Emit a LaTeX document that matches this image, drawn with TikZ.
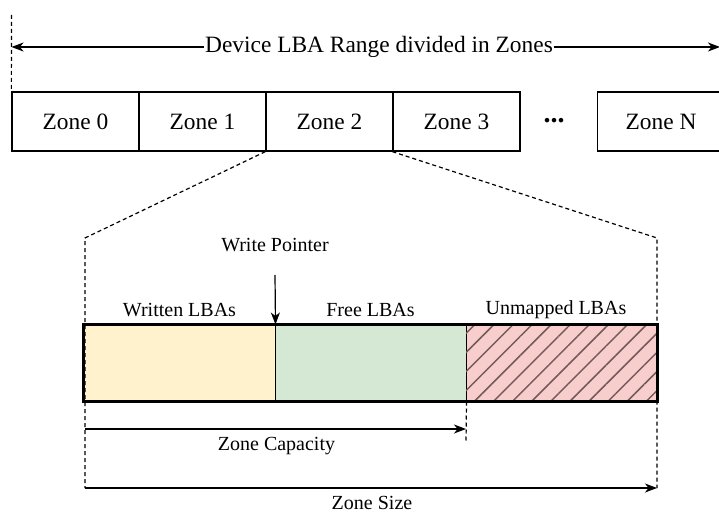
\documentclass[tikz,border=0pt]{standalone}
\usepackage{fontspec}
\setmainfont{Liberation Serif}
\usetikzlibrary{arrows.meta,patterns.meta}
\definecolor{writtenfill}{HTML}{FFF2CC}
\definecolor{freefill}{HTML}{D5E8D4}
\definecolor{unmapfill}{HTML}{F8CECC}
\definecolor{hatchcol}{RGB}{115,90,90}
\begin{document}
\begin{tikzpicture}[x=1pt,y=-1pt,
  bigtext/.style={font=\fontsize{23.4}{27}\selectfont, inner sep=0pt},
  smalltext/.style={font=\fontsize{20}{24}\selectfont, inner sep=0pt},
  zonebox/.style={draw, line width=1.3pt, minimum width=127pt, minimum height=59pt, inner sep=0pt, font=\fontsize{23.4}{27}\selectfont},
  barpart/.style={draw, line width=1pt, minimum width=191pt, minimum height=76pt, inner sep=0pt},
  dashline/.style={line width=1.2pt, dash pattern=on 4pt off 3pt},
  arr/.style={line width=1.2pt, -{Stealth[length=12pt,width=9pt,inset=3.5pt]}},
]
\useasboundingbox (0,0) rectangle (719,513);
\clip (0,0) rectangle (719,513);

% zones
\node[zonebox] (z0) at (75.5,121.5) {Zone 0};
\node[zonebox] (z1) at (202.5,121.5) {Zone 1};
\node[zonebox] (z2) at (329.5,121.5) {Zone 2};
\node[zonebox] (z3) at (456.5,121.5) {Zone 3};
\node[inner sep=0pt, font=\fontsize{28}{30}\selectfont\bfseries] (dots) at (554,120.5) {...};
\node[zonebox] (zn) at (661,121.5) {Zone N};

% device range arrow
\node[bigtext, fill=white, inner xsep=1pt] (title) at (379,47) {Device LBA Range divided in Zones};
\coordinate (lft) at (11.5,47);
\coordinate (rgt) at (720,47);
\coordinate (lfttop) at (11.5,15);
\draw[dashline] (lfttop) -- (z0.north west);
\draw[arr] (title.west) -- (lft);
\draw[arr] (title.east) -- (rgt);

% bar
\node[barpart, fill=writtenfill] (w) at (179.5,363) {};
\node[barpart, fill=freefill] (f) at (370.5,363) {};
\node[barpart, fill=unmapfill, postaction={pattern={Lines[angle=45,distance=13.5pt,line width=1.5pt]}, pattern color=hatchcol}] (u) at (561.5,363) {};
\draw[line width=2.2pt] (w.north west) rectangle (u.south east);

% zoom dashed lines
\coordinate (lc) at (85,238);
\coordinate (rc) at (657,238);
\coordinate (lb) at (85,488);
\coordinate (rb) at (657,488);
\coordinate (cb) at (466,443);
\draw[dashline] (z2.south west) -- (lc) -- (lb);
\draw[dashline] (z3.south west) -- (rc) -- (rb);
\draw[dashline] (f.south east) -- (cb);

% labels
\node[smalltext] (wp) at (275,245) {Write Pointer};
\coordinate (wps) at (275,275);
\draw[arr] (wps) -- (w.north east);
\node[smalltext] (wl) at (179.5,310) {Written LBAs};
\node[smalltext] (fl) at (370.5,310) {Free LBAs};
\node[smalltext] (ul) at (556,310) {Unmapped LBAs};

% capacity / size arrows
\coordinate (cs) at (85,429);
\coordinate (ce) at (466,429);
\draw[arr] (cs) -- (ce);
\node[smalltext] (cap) at (276.5,446) {Zone Capacity};
\coordinate (ss) at (85,488);
\coordinate (se) at (657,488);
\draw[arr] (ss) -- (se);
\node[smalltext] (size) at (372,502.5) {Zone Size};
\end{tikzpicture}
\end{document}
